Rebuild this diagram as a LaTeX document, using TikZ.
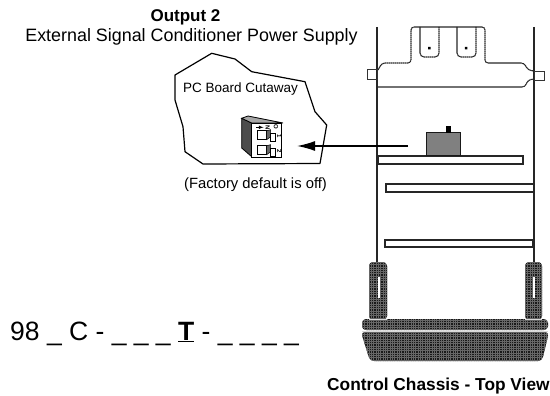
\documentclass[tikz,border=0pt]{standalone}
\usepackage{fontspec}
\setmainfont{Liberation Sans}
\usetikzlibrary{arrows.meta}

\begin{document}
\begin{tikzpicture}[x=1pt,y=-1pt,
    font=\rmfamily,
    >=latex
    ]
        \useasboundingbox (0,0) rectangle (550,396);

        \tikzset{
            Raster/.style={draw=black!85,line width=#1,dash pattern=on 1.6pt off .4pt},
            Fach/.style={draw=black!85,fill=white,line width=1.1pt},
            Kante/.style={draw=black,line width=1.2pt,line join=round},
            Klein/.style={inner sep=0pt,font=\fontsize{6}{6}\selectfont\bfseries},
            Text/.style={anchor=base,inner sep=0pt}
        }

        % Texte
        \node [Text] (Output) at (185.5,22) {\fontsize{17}{20}\selectfont\bfseries Output 2};
        \node [Text] (Supply) at (191.5,42) {\fontsize{17.9}{20}\selectfont External Signal Conditioner Power Supply};
        \node [Text] (Board) at (240.5,93) {\fontsize{13.5}{15}\selectfont PC Board Cutaway};
        \node [Text] (Default) at (255.5,188.5) {\fontsize{14.8}{17}\selectfont (Factory default is off)};
        \node [Text,anchor=base west] (Chassis) at (327,390) {\fontsize{17.3}{20}\selectfont\bfseries Control Chassis - Top View};
        \node [Text,anchor=base west] (Model) at (10,340)
            {\fontsize{26.5}{30}\selectfont 98 \_ C - \_ \_ \_ \underline{\textbf{T}} - \_ \_ \_ \_};

        % Ausschnitt
        \draw [Kante] (175,75) -- (211.7,53.3) -- (235,59) -- (251.7,71.7) -- (305,81.7)
            -- (315,111.7) -- (326.7,125) -- (320,163.5) -- (203,164) -- (185,151.7)
            -- (183,126.7) -- (175,100) -- cycle;

        % Schalter
        \draw [fill=black!70,line width=.8pt] (241.7,118.3) -- (251.7,123) -- (251.7,156.7)
            -- (241.7,148) -- cycle;
        \draw [fill=black!35,line width=.8pt] (241.7,118.3) -- (248,116) -- (283,123)
            -- (251.7,123) -- cycle;
        \draw [fill=white,line width=.8pt] (251.7,123) rectangle (281.7,157);
        \foreach \y/\n in {130.7/1,145.7/2} {
            \draw [line width=.6pt] (257.7,\y) rectangle ++(9,9);
            \draw [fill=black!60,line width=.5pt] (266.7,\y) -- ++(4,-1) -- ++(0,7) -- ++(-4,3) -- cycle;
            \draw [fill=white,line width=.5pt] (270,\y+3) rectangle ++(5,8);
            \node [Klein,rotate=-90] (Nr\n) at (279.3,\y+5) {\n};
        }
        \node [Klein,rotate=-90] (SwN) at (267.7,127.3) {N};
        \node [Klein,rotate=-90] (SwO) at (276,127.3) {O};
        \coordinate (SwA) at (256,127.3);
        \coordinate (SwB) at (263.5,127.3);
        \draw [->,line width=.6pt] (SwA) -- (SwB);

        % Chassis
        \draw [Raster=2.2pt] (377,27) -- (377,263)
                             (534,27) -- (534,263);
        \draw [Raster=1.1pt,rounded corners=3pt]
            (378,70) -- (382,63) -- (411,63) -- (411,27) -- (485,27) -- (485,63) -- (524,63)
            -- (528,70) -- (534,71)
            (534,79) -- (528,80) -- (525,87) -- (378,87);
        \draw [Raster=1.1pt,rounded corners=4pt]
            (420,27) -- (420,57) -- (439,57) -- (439,27)
            (457,27) -- (457,57) -- (476,57) -- (476,27);
        \fill (428.2,46.8) rectangle ++(2.5,2.5)
              (464.8,46.8) rectangle ++(2.5,2.5);
        \draw [draw=black!80,line width=.8pt] (367,69) rectangle (377,79)
                                              (534,71) rectangle (544,80);

        % Einschuebe
        \draw [Fach] (378,156) rectangle (523,164);
        \draw [Fach] (386,184) rectangle (534,192);
        \draw [Fach] (385,240) rectangle (533,247);
        \node [draw=black!90,fill=black!50,line width=1pt,minimum width=34pt,minimum height=23pt,
            inner sep=0pt] (Modul) at (443,144.5) {};
        \fill (446,126) rectangle (451,133);

        % Pfeil
        \coordinate (PfeilA) at (408,146);
        \coordinate (PfeilB) at (297,146);
        \draw [-{Latex[length=18pt,width=10pt]},line width=1.5pt] (PfeilA) -- (PfeilB);

        % Fuesse, Rahmen unten
        \begin{scope}
            \clip [rounded corners=4pt] (369,262) rectangle (387,320)
                                        (525,262) rectangle (542,320)
                                        (362,319) rectangle (548,330)
                                        (361,332) -- (549,332) -- (542,361) -- (370,361) -- cycle;
            \fill [black!90] (355,255) rectangle (555,365);
            \foreach \k in {0,...,85}
                \draw [black!60,line width=.3pt] (355+\k*2.33,255) -- (355+\k*2.33,365);
            \foreach \k in {0,...,47}
                \draw [black!60,line width=.3pt] (355,255+\k*2.33) -- (555,255+\k*2.33);
        \end{scope}
        \draw [white,line width=2pt] (378.5,277) -- (378.5,298)
                                     (533.5,277) -- (533.5,298);
        \draw [black!15,line width=.8pt] (369,319) -- (387,319)
                                         (525,319) -- (542,319)
                                         (362,331) -- (548,331);
    \end{tikzpicture}
\end{document}
